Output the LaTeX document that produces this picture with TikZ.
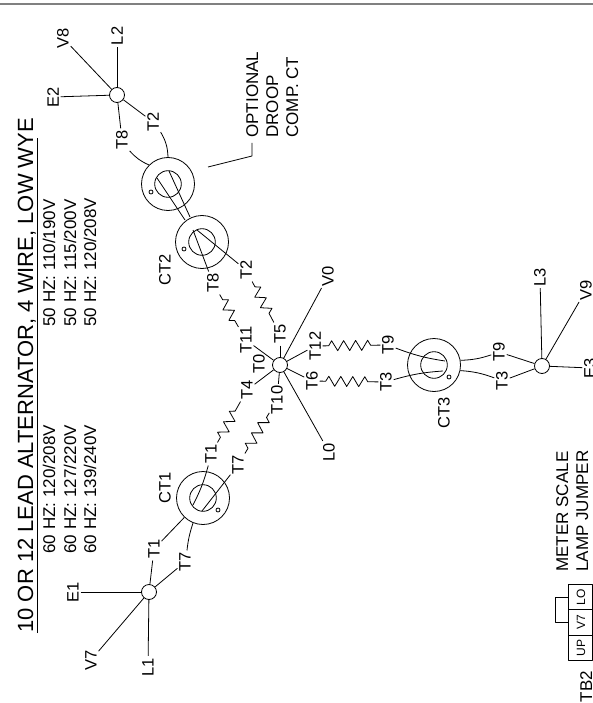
\documentclass[tikz,border=0pt]{standalone}
\usepackage{fontspec}
\setmainfont{Liberation Sans}
\usepackage{tikz}
\usetikzlibrary{decorations.pathmorphing}
\newcommand{\clrrule}{gray}
\tikzset{
    tag/.style={rotate=90, inner sep=1.5pt, font=\fontsize{16.5}{16.5}\selectfont},
    note/.style={rotate=90, anchor=base west, inner sep=0pt, font=\fontsize{17}{17}\selectfont},
    hub/.style={draw, circle, fill=white, minimum size=15, inner sep=0pt},
    ctring/.style={draw, circle, minimum size=53, inner sep=0pt},
    cthole/.style={draw, circle, minimum size=26.6, inner sep=0pt},
    ctdot/.style={draw, circle, minimum size=4, inner sep=0pt},
    winding/.style={decorate, decoration={zigzag, amplitude=5pt, segment length=12pt, pre length=6pt, post length=5pt}},
    tbcell/.style={draw, minimum width=24, minimum height=25.3, inner sep=0pt}
}

\begin{document}
\begin{tikzpicture}[x=1pt, y=-1pt, line width=0.8pt, line join=round]
    \useasboundingbox (0,0) rectangle (593,703);
    \coordinate (rulea) at (0,4);
    \coordinate (ruleb) at (593,4);
    \draw[\clrrule, line width=1.5pt] (rulea) -- (ruleb);

    %heading
    \node[note, font=\fontsize{22}{22}\selectfont] (title) at (33,633) {10 OR 12 LEAD ALTERNATOR, 4 WIRE, LOW WYE};
    \coordinate (titlea) at (37.5,633);
    \coordinate (titleb) at (37.5,138);
    \draw (titlea) -- (titleb);
    \foreach \n/\x/\y/\txt in {
        hza/55/554/{60 HZ: 120/208V}, hzb/76/554/{60 HZ: 127/220V}, hzc/96/554/{60 HZ: 139/240V},
        hzd/55/327/{50 HZ: 110/190V}, hze/76/327/{50 HZ: 115/200V}, hzf/96/327/{50 HZ: 120/208V},
        opta/258/138/OPTIONAL, optb/278/138/DROOP, optc/298/138/{COMP. CT},
        metera/568/572/METER SCALE, meterb/588/572/LAMP JUMPER, tbtwo/592/702.5/TB2}
    {
        \node[note] (\n) at (\x,\y) {\txt};
    }

    %hubs and current transformers
    \node[hub] (hubn) at (280,365) {};
    \node[hub] (huba) at (149,592) {};
    \node[hub] (hubb) at (117,95) {};
    \node[hub] (hubc) at (542,366) {};
    \foreach \n/\x/\y/\dx/\dy in {cta/203/498/218/510, ctb/202/242/184/249, ctd/168/184/151/192, ctc/434/365/449/377}
    {
        \node[ctring] (\n) at (\x,\y) {};
        \node[cthole] (\n hole) at (\x,\y) {};
        \node[ctdot] (\n dot) at (\dx,\dy) {};
    }

    %labels
    \foreach \n/\x/\y/\txt in {
        e1/73/592/E1, v7/91/660/V7, l1/148/667/L1, e2/53/97/E2, v8/63/38/V8, l2/117/36/L2,
        e3/590/368/E3, v9/586/290/V9, l3/540/277/L3, v0/328/276/V0, l0/329/452/L0,
        aone/154/549/T1, aseven/185/562/T7, bone/211/454/T1, bseven/238/465/T7,
        four/247/390/T4, ten/277/400/T10, zero/259/364/T0, eleven/246/340/T11,
        five/280/334/T5, twelve/315/346/T12, six/312/381/T6,
        ceight/213/283/T8, ctwo/246/270/T2, deight/122/140/T8, dtwo/153/122/T2,
        cnine/388/345/T9, cthree/386/382/T3, dnine/499/352/T9, dthree/502/381/T3,
        ctaname/165/488/CT1, ctbname/165/270/CT2, ctcname/444/413/CT3}
    {
        \node[tag] (\n) at (\x,\y) {\txt};
    }

    %leads
    \foreach \x/\y in {
        e1/huba, v7/huba, l1/huba, aone/huba, aseven/huba,
        e2/hubb, v8/hubb, l2/hubb, deight/hubb, dtwo/hubb,
        e3/hubc, v9/hubc, l3/hubc, dnine/hubc, dthree/hubc,
        v0/hubn, l0/hubn, eleven/hubn, four/hubn, ten/hubn, five/hubn, twelve/hubn, six/hubn,
        aone/cta}
    {
        \draw (\x) -- (\y);
    }
    \draw (aseven) to[bend left=6] (cta);
    \draw (deight) to[bend right=12] (ctd.135);
    \draw (dtwo) to[bend left=14] (ctd.north);
    \draw (ctc.10) to[bend right=8] (dnine);
    \draw (ctc.-12) to[bend left=8] (dthree);

    %windings
    \foreach \x/\y in {bone/four, bseven/ten, ceight/eleven, ctwo/five, twelve/cnine, six/cthree}
    {
        \draw[winding] (\x) -- (\y);
    }

    %wires through the holes
    \foreach \n/\x/\y in {wa/193/505, wb/202/511, wc/193/230, wd/197/230, we/445/361, wf/443/371,
        ga/157/178, gb/185/220, gc/169/171, gd/190/217}
    {
        \coordinate (\n) at (\x,\y);
    }
    \draw (bone) to[bend left=6] (wa);
    \draw (bseven) -- (wb);
    \draw (ceight) -- (wc);
    \draw (ctwo) -- (wd);
    \draw (cnine) to[bend right=6] (we);
    \draw (cthree) to[bend left=6] (wf);
    \draw (ga) -- (gb);
    \draw (gc) -- (gd);

    %pointer to the droop transformer
    \coordinate (pointa) at (208,167);
    \coordinate (pointb) at (252,156);
    \coordinate (pointc) at (252,143);
    \draw (pointa) -- (pointb) -- (pointc);

    %terminal strip
    \foreach \n/\y in {lo/597, vseven/622.5, up/647.8}
    {
        \node[tbcell] (\n) at (580.5,\y) {};
    }
    \foreach \n/\y/\txt in {lotxt/597/LO, vseventxt/622.5/V7, uptxt/647.8/UP}
    {
        \node[tag, font=\fontsize{12}{12}\selectfont] (\n) at (581,\y) {\txt};
    }
    \draw (lo.west) -- ++(-13,0) |- (vseven.west);
\end{tikzpicture}
\end{document}
